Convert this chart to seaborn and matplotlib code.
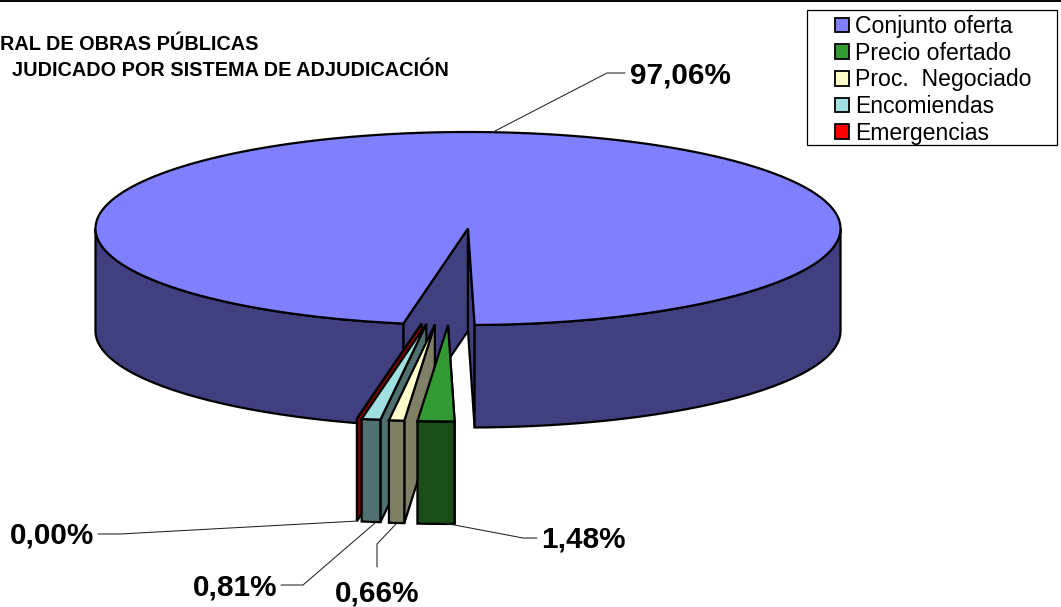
import numpy as np
import matplotlib
matplotlib.use("Agg")
import matplotlib.pyplot as plt
from matplotlib.patches import Rectangle
import seaborn as sns

# ---- data ----
categories = ["Conjunto oferta", "Precio ofertado", "Proc.  Negociado", "Encomiendas", "Emergencias"]
values = [97.06, 1.48, 0.66, 0.81, 0.00]
labels = ["97,06%", "1,48%", "0,66%", "0,81%", "0,00%"]
title_lines = ["RAL DE OBRAS PÚBLICAS", "JUDICADO POR SISTEMA DE ADJUDICACIÓN"]
colors = ["#8080ff", "#339933", "#ffffcc", "#a0e0e0", "#ff0000"]

# ---- geometry / style ----
W, H = 1061, 607
CX, CY, RX, RY = 468.0, 228.5, 372.5, 96.5
DEPTH = 102.5
START = 100.0            # screen angle where the first slice begins (clockwise)
PAD = 0.4                # small widening of the cut on the right of the apex
LW = 1.6
EXPLODE_SHIFT = -14.0
EXPLODE_SCALE_X = 0.5

sns.set_theme(style="white")
plt.rcParams["font.family"] = ["Liberation Sans", "DejaVu Sans"]
fig = plt.figure(figsize=(W / 100, H / 100), dpi=100, facecolor="white")
ax = fig.add_axes([0, 0, 1, 1])
ax.set_xlim(0, W)
ax.set_ylim(H, 0)
ax.axis("off")


def dark(c):
    return tuple(0.5 * v for v in matplotlib.colors.to_rgb(c))


def rim(t0, t1, cx, cy):
    t = np.radians(np.linspace(t0, t1, max(int(abs(t1 - t0) * 2), 2)))
    return cx + RX * np.cos(t), cy + RY * np.sin(t)


def poly(x, y, c, z):
    ax.fill(x, y, facecolor=c, edgecolor="black", linewidth=LW, joinstyle="miter", zorder=z)


def wall(cx, cy, t, c, z):
    x, y = rim(t, t, cx, cy)
    x, y = x[0], y[0]
    poly([cx, x, x, cx], [cy, y, y + DEPTH, cy + DEPTH], c, z)


def front(t0, t1, cx, cy, c, z):
    x, y = rim(t0, t1, cx, cy)
    poly(np.r_[x, x[::-1]], np.r_[y, y[::-1] + DEPTH], c, z)


def top(t0, t1, cx, cy, c, z):
    x, y = rim(t0, t1, cx, cy)
    poly(np.r_[cx, x], np.r_[cy, y], c, z)


# slice angles from values
spans = np.array(values) / sum(values) * 360
starts = START + np.r_[0, np.cumsum(spans)[:-1]]
ends = starts + spans
ends[0] -= PAD
starts[1] -= PAD

# main slice
s0, e0 = starts[0], ends[0]
side0 = dark(colors[0])
wall(CX, CY, s0, side0, 1)
wall(CX, CY, e0, side0, 1)
front(s0, 180, CX, CY, side0, 2)
front(360, e0, CX, CY, side0, 2)
top(s0, e0, CX, CY, colors[0], 3)

# exploded small slices, drawn left-most first
for i in [4, 3, 2, 1]:
    mid = np.radians((starts[i] + ends[i]) / 2)
    cx = CX + EXPLODE_SHIFT + EXPLODE_SCALE_X * RX * np.cos(mid)
    cy = CY + RY * np.sin(mid)
    z = 10 + (4 - i) * 3
    side = dark(colors[i])
    wall(cx, cy, starts[i], side, z)
    front(starts[i], ends[i], cx, cy, side, z + 1)
    top(starts[i], ends[i], cx, cy, colors[i], z + 2)

# leader lines and labels
leaders = {
    0: ([495, 607, 625], [131, 73, 73]),
    1: ([444, 523, 537], [523, 538, 538]),
    2: ([396, 377, 377], [524, 544, 567]),
    3: ([375, 303, 281], [523, 585, 585]),
    4: ([358, 120, 98], [521, 534, 534]),
}
label_pos = {0: (680.5, 84), 1: (583, 547), 2: (377.5, 602), 3: (235, 595), 4: (52, 543)}
for i, lab in enumerate(labels):
    ax.plot(*leaders[i], color="#222222", lw=0.75, zorder=30, solid_joinstyle="miter")
    ax.text(*label_pos[i], lab, ha="center", va="baseline", fontsize=21.4, fontweight="bold",
            color="black", zorder=31)

# title fragments: only the part the reference shows
ax.text(258.5, 50, title_lines[0], ha="right", va="baseline", fontsize=14.35, fontweight="bold", color="black")
ax.text(449, 75.5, title_lines[1], ha="right", va="baseline", fontsize=14.35, fontweight="bold", color="black")

# top border
ax.plot([0, W], [0.5, 0.5], color="black", lw=1.4, zorder=40, clip_on=False)

# legend
ax.add_patch(Rectangle((807, 10), 250, 135, facecolor="white", edgecolor="black", lw=0.9, zorder=50))
handles = [Rectangle((0, 0), 1, 1, facecolor=c, edgecolor="black", lw=1.3) for c in colors]
leg = ax.legend(handles, categories, loc="upper left", bbox_to_anchor=(830.5 / W, 1 - 10.5 / H),
                bbox_transform=fig.transFigure, frameon=False, fontsize=16.6, handlelength=0.61,
                handleheight=0.61, handletextpad=0.27, labelspacing=0.16, borderpad=0.2, borderaxespad=0,
                labelcolor="black")
leg.set_zorder(51)

fig.savefig("out.png", dpi=100, facecolor="white")
